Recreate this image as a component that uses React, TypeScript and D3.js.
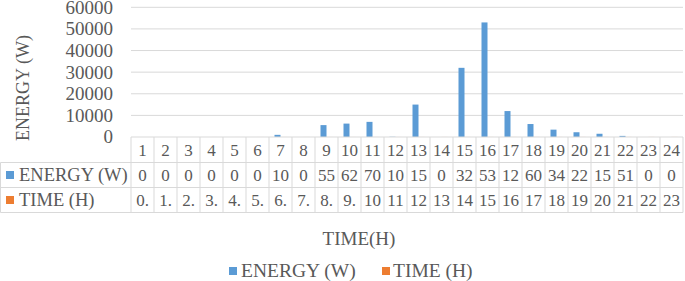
import React from "react";
import * as d3 from "d3";

const categories = ["1","2","3","4","5","6","7","8","9","10","11","12","13","14","15","16","17","18","19","20","21","22","23","24"];
const energyW = [0,0,0,0,0,0,1000,0,5500,6200,7000,100,15000,0,32000,53000,12000,6000,3400,2200,1500,510,0,0];
const timeH = [0.5,1.5,2.5,3.5,4.5,5.5,6.5,7.5,8.5,9.5,10.5,11.5,12.5,13.5,14.5,15.5,16.5,17.5,18.5,19.5,20.5,21.5,22.5,23.5];
const yTicks = [0,10000,20000,30000,40000,50000,60000];
const seriesNames = ["ENERGY (W)", "TIME (H)"];
const seriesColors = ["#5b9bd5", "#ed7d31"];

const W = 685, H = 281;
const plotLeft = 131, plotRight = 683, plotTop = 7.3, plotBottom = 137;
const rowTops = [137, 162.5, 187.5, 212.5];
const textColor = "#595959";
const gridColor = "#d9d9d9";
const font = "'Liberation Serif', 'Times New Roman', Times, serif";

// Excel truncates cell text to fit the narrow column
const cellText = (v: number) => String(v).slice(0, 2);

export default function App() {
  const x = d3.scaleBand<string>().domain(categories).range([plotLeft, plotRight]).padding(0);
  const y = d3.scaleLinear().domain([0, 60000]).range([plotBottom, plotTop]);
  const bw = x.bandwidth();
  const sub = d3.scaleBand<string>().domain(seriesNames).range([bw / 2 - 6, bw / 2 + 6]).padding(0);
  const series = [energyW, timeH];

  return (
    <svg width={W} height={H} style={{ position: "absolute", left: 0, top: 0, fontFamily: font }}>
      <rect width={W} height={H} fill="#fff" />
      {yTicks.filter(t => t > 0).map(t => (
        <line key={t} x1={plotLeft} x2={plotRight} y1={y(t)} y2={y(t)} stroke={gridColor} strokeWidth={1} />
      ))}
      {yTicks.map(t => (
        <text key={t} x={113} y={y(t)} dy="0.34em" textAnchor="end" fontSize={19} fill={textColor}>{t}</text>
      ))}
      {series.map((vals, si) => vals.map((v, i) => (
        <rect key={si + "-" + i}
          x={(x(categories[i]) as number) + (sub(seriesNames[si]) as number)}
          y={y(v)} width={sub.bandwidth()} height={plotBottom - y(v)}
          fill={seriesColors[si]} />
      )))}
      <g stroke={gridColor} strokeWidth={1} fill="none">
        <line x1={plotLeft} x2={plotRight} y1={rowTops[0]} y2={rowTops[0]} />
        <line x1={0.5} x2={plotRight} y1={rowTops[1]} y2={rowTops[1]} />
        <line x1={0.5} x2={plotRight} y1={rowTops[2]} y2={rowTops[2]} />
        <line x1={0.5} x2={plotRight} y1={rowTops[3]} y2={rowTops[3]} />
        <line x1={0.5} x2={0.5} y1={rowTops[1]} y2={rowTops[3]} />
        {categories.map(c => (
          <line key={c} x1={x(c)} x2={x(c)} y1={rowTops[0]} y2={rowTops[3]} />
        ))}
        <line x1={plotRight} x2={plotRight} y1={rowTops[0]} y2={rowTops[3]} />
      </g>
      {categories.map(c => (
        <text key={"h" + c} x={(x(c) as number) + bw / 2} y={(rowTops[0] + rowTops[1]) / 2} dy="0.35em"
          textAnchor="middle" fontSize={17} fill={textColor}>{c}</text>
      ))}
      {series.map((vals, si) => (
        <g key={"row" + si}>
          <rect x={6} y={(rowTops[si + 1] + rowTops[si + 2]) / 2 - 4} width={8} height={8} fill={seriesColors[si]} />
          <text x={19} y={(rowTops[si + 1] + rowTops[si + 2]) / 2} dy="0.35em" fontSize={18.5} fill={textColor}>{seriesNames[si]}</text>
          {vals.map((v, i) => (
            <text key={i} x={(x(categories[i]) as number) + bw / 2} y={(rowTops[si + 1] + rowTops[si + 2]) / 2} dy="0.35em"
              textAnchor="middle" fontSize={17} fill={textColor}>{cellText(v)}</text>
          ))}
        </g>
      ))}
      <text x={359} y={245} textAnchor="middle" fontSize={19} fill={textColor}>TIME(H)</text>
      <text transform={`translate(29,88) rotate(-90)`} textAnchor="middle" fontSize={18} fill={textColor}>ENERGY (W)</text>
      <g>
        <rect x={229} y={267} width={8} height={8} fill={seriesColors[0]} />
        <text x={241} y={277} fontSize={19.5} fill={textColor}>{seriesNames[0]}</text>
        <rect x={382} y={267} width={8} height={8} fill={seriesColors[1]} />
        <text x={393} y={277} fontSize={19.5} fill={textColor}>{seriesNames[1]}</text>
      </g>
    </svg>
  );
}
